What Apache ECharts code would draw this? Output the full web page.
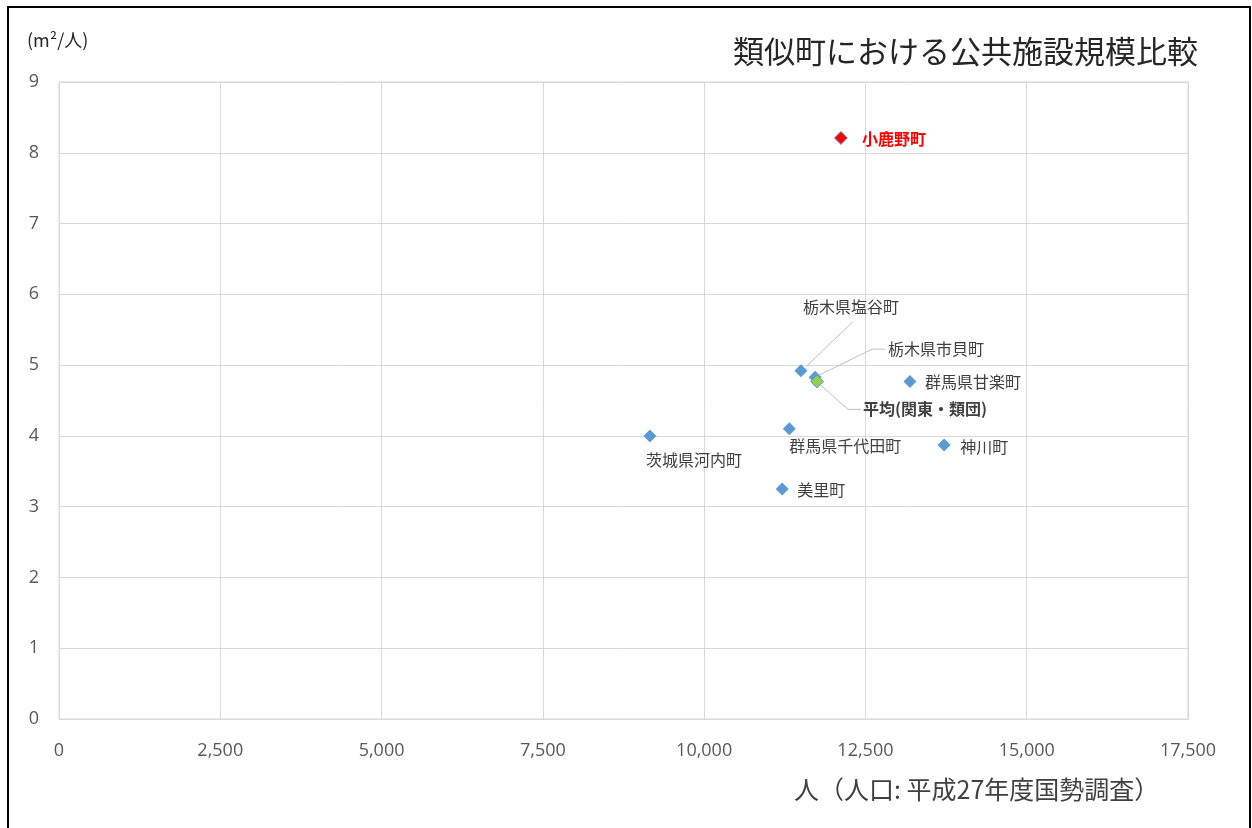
<!DOCTYPE html>
<html><head><meta charset="utf-8">
<script src="https://cdn.jsdelivr.net/npm/echarts@6/dist/echarts.min.js"></script>
<style>html,body{margin:0;padding:0;background:#fff}#c{width:1252px;height:828px}</style>
</head><body><div id="c"></div>
<script>
// Data
const townNames = ['栃木県塩谷町','栃木県市貝町','群馬県甘楽町','群馬県千代田町','茨城県河内町','神川町','美里町'];
const townPopulation = [11500, 11720, 13190, 11320, 9160, 13720, 11210];
const townArea = [4.92, 4.83, 4.77, 4.10, 4.00, 3.87, 3.25];
const ownName = '小鹿野町';
const ownPopulation = 12120;
const ownArea = 8.21;
const avgName = '平均(関東・類団)';
const avgPopulation = 11750;
const avgArea = 4.77;
const xTicks = [0, 2500, 5000, 7500, 10000, 12500, 15000, 17500];
const yTicks = [0, 1, 2, 3, 4, 5, 6, 7, 8, 9];

// label offsets (pixels relative to marker centre) - styling only
const labelOffsets = {
  '栃木県塩谷町': [50, -64, 'center'],
  '栃木県市貝町': [73, -28, 'left'],
  '群馬県甘楽町': [15, 1, 'left'],
  '群馬県千代田町': [0, 17, 'left'],
  '茨城県河内町': [-4, 24, 'left'],
  '神川町': [16, 2, 'left'],
  '美里町': [15, 1, 'left'],
  '小鹿野町': [21, 1, 'left'],
  '平均(関東・類団)': [46, 28, 'left']
};
// leader line vertices (pixels relative to marker centre) - styling only
const leaderShapes = {
  '栃木県塩谷町': [[5, -4], [52, -49]],
  '栃木県市貝町': [[4, -2], [57, -28], [70, -28]],
  '平均(関東・類団)': [[4, 4], [31, 28], [44, 28]]
};

const jp = '"Noto Sans CJK JP", "Noto Sans", sans-serif';

function makeLayout(names) {
  return function (p) {
    const o = labelOffsets[names[p.dataIndex]];
    return {
      x: p.rect.x + p.rect.width / 2 + o[0],
      y: p.rect.y + p.rect.height / 2 + o[1],
      align: o[2],
      verticalAlign: 'middle'
    };
  };
}
function makeData(names, xs, ys) {
  return names.map((n, i) => ({ name: n, value: [xs[i], ys[i]] }));
}

// points with leader lines, taken from the data arrays above
const allNames = townNames.concat([ownName, avgName]);
const allPop = townPopulation.concat([ownPopulation, avgPopulation]);
const allArea = townArea.concat([ownArea, avgArea]);
const leaderData = allNames
  .map((n, i) => ({ name: n, value: [allPop[i], allArea[i]] }))
  .filter(d => leaderShapes[d.name]);

const chart = echarts.init(document.getElementById('c'), null, { renderer: 'canvas' });
const labelBase = {
  show: true,
  formatter: '{b}',
  fontFamily: jp,
  fontSize: 16,
  color: '#404040'
};

chart.setOption({
  backgroundColor: '#fff',
  animation: false,
  title: {
    text: '類似町における公共施設規模比較',
    right: 49, top: 31,
    textStyle: { fontFamily: jp, fontSize: 31, fontWeight: 'normal', color: '#262626' }
  },
  graphic: [
    { type: 'polyline', shape: { points: [[8, 828], [8, 7], [1250, 7], [1250, 828]] },
      style: { stroke: '#000', lineWidth: 2, fill: null } },
    { type: 'text', left: 27, top: 31,
      style: { text: '(m²/人)', font: '18px ' + jp, fill: '#262626' } },
    { type: 'text', left: 794, top: 777,
      style: { text: '人（人口: 平成27年度国勢調査）', font: '25px ' + jp, fill: '#404040' } }
  ],
  grid: { left: 59, top: 82, right: 64, bottom: 109, show: true, borderColor: '#d9d9d9', borderWidth: 1 },
  xAxis: {
    type: 'value',
    min: xTicks[0], max: xTicks[xTicks.length - 1], interval: xTicks[1] - xTicks[0],
    axisLine: { show: true, lineStyle: { color: '#d9d9d9' } },
    axisTick: { show: false },
    splitLine: { show: true, lineStyle: { color: '#d9d9d9' } },
    axisLabel: {
      margin: 23, fontSize: 18, color: '#595959', fontFamily: '"Open Sans", sans-serif',
      formatter: v => v.toLocaleString('en-US')
    }
  },
  yAxis: {
    type: 'value',
    min: yTicks[0], max: yTicks[yTicks.length - 1], interval: yTicks[1] - yTicks[0],
    axisLine: { show: true, lineStyle: { color: '#d9d9d9' } },
    axisTick: { show: false },
    splitLine: { show: true, lineStyle: { color: '#d9d9d9' } },
    axisLabel: { margin: 20, fontSize: 18, color: '#595959', fontFamily: '"Open Sans", sans-serif' }
  },
  series: [
    {
      type: 'custom',
      z: 1,
      silent: true,
      data: leaderData,
      renderItem: function (params, api) {
        const c = api.coord([api.value(0), api.value(1)]);
        const shape = leaderShapes[leaderData[params.dataIndex].name];
        return {
          type: 'polyline',
          shape: { points: shape.map(p => [c[0] + p[0], c[1] + p[1]]) },
          style: { stroke: '#bfbfbf', lineWidth: 1, fill: null }
        };
      }
    },
    {
      type: 'scatter',
      z: 2,
      symbol: 'diamond', symbolSize: 13,
      itemStyle: { color: '#5b9bd5', opacity: 1 },
      data: makeData(townNames, townPopulation, townArea),
      label: labelBase,
      labelLayout: makeLayout(townNames)
    },
    {
      type: 'scatter',
      z: 3,
      symbol: 'diamond', symbolSize: 13,
      itemStyle: { color: '#ff0000', borderColor: '#5b9bd5', borderWidth: 1, opacity: 1 },
      data: makeData([ownName], [ownPopulation], [ownArea]),
      label: Object.assign({}, labelBase, { color: '#ff0000', fontWeight: 'bold' }),
      labelLayout: makeLayout([ownName])
    },
    {
      type: 'scatter',
      z: 3,
      symbol: 'diamond', symbolSize: 13,
      itemStyle: { color: '#92d050', borderColor: '#5b9bd5', borderWidth: 1, opacity: 1 },
      data: makeData([avgName], [avgPopulation], [avgArea]),
      label: Object.assign({}, labelBase, { fontWeight: 'bold' }),
      labelLayout: makeLayout([avgName])
    }
  ]
});
</script></body></html>
